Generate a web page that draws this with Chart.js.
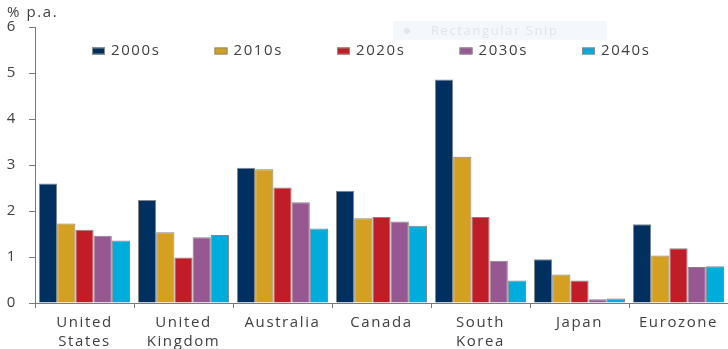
<!DOCTYPE html>
<html>
<head>
<meta charset="utf-8">
<script src="https://cdn.jsdelivr.net/npm/chart.js@4/dist/chart.umd.min.js"></script>
<style>
html,body{margin:0;padding:0;background:#fff;}
#wrap{width:728px;height:349px;position:relative;}
</style>
</head>
<body>
<div id="wrap"><canvas id="c" width="728" height="349"></canvas></div>
<script>
const categories = [["United","States"],["United","Kingdom"],"Australia","Canada",["South","Korea"],"Japan","Eurozone"];
const seriesLabels = ["2000s","2010s","2020s","2030s","2040s"];
const s2000s = [2.60, 2.24, 2.94, 2.44, 4.86, 0.95, 1.71];
const s2010s = [1.73, 1.54, 2.91, 1.84, 3.18, 0.62, 1.03];
const s2020s = [1.59, 0.99, 2.51, 1.87, 1.87, 0.49, 1.19];
const s2030s = [1.46, 1.43, 2.19, 1.77, 0.92, 0.08, 0.78];
const s2040s = [1.36, 1.48, 1.62, 1.68, 0.49, 0.10, 0.80];
const yTicks = [0,1,2,3,4,5,6];
const colors = ["#00305f","#d3a021","#c01d27","#975892","#00acdb"];

const FONT = "'Open Sans', 'Noto Sans', sans-serif";
const TXT = "#404040";
const SPACING = "1.6px";

const seriesData = [s2000s, s2010s, s2020s, s2030s, s2040s];
const datasets = seriesData.map((d,i)=>({
  label: seriesLabels[i],
  data: d,
  backgroundColor: colors[i],
  borderColor: "#858585",
  borderWidth: 1,
  borderSkipped: 'bottom',
  categoryPercentage: 0.92,
  barPercentage: 1.0
}));

const extras = {
  id: 'extras',
  beforeDraw(chart){
    chart.ctx.letterSpacing = SPACING;
  },
  afterDraw(chart){
    const ctx = chart.ctx;
    ctx.save();
    ctx.letterSpacing = SPACING;
    // unit label
    ctx.fillStyle = TXT;
    ctx.font = "15px " + FONT;
    ctx.textBaseline = 'middle';
    ctx.textAlign = 'left';
    ctx.fillText("% p.a.", 7, 13);
    // faint snip overlay
    ctx.fillStyle = "#f4f8fd";
    ctx.fillRect(393, 21, 214, 19);
    ctx.fillStyle = "#e2e8ee";
    ctx.beginPath(); ctx.arc(407, 31, 3, 0, Math.PI*2); ctx.fill();
    ctx.fillStyle = "#dfe5eb";
    ctx.font = "13px " + FONT;
    ctx.fillText("Rectangular Snip", 431, 31);
    // legend
    ctx.font = "15px " + FONT;
    chart.data.datasets.forEach((ds,i)=>{
      const x = 92 + i*122.5;
      const y = 47.5;
      ctx.fillStyle = ds.backgroundColor;
      ctx.fillRect(x, y, 13, 7);
      ctx.strokeStyle = "#8a8a8a";
      ctx.lineWidth = 1;
      ctx.strokeRect(x+0.5, y+0.5, 12, 6);
      ctx.fillStyle = TXT;
      ctx.fillText(ds.label, x+19, 51);
    });
    ctx.restore();
  }
};

new Chart(document.getElementById('c'), {
  type: 'bar',
  data: { labels: categories, datasets },
  plugins: [extras],
  options: {
    responsive: false,
    animation: false,
    layout: { padding: { top: 27, right: 0, left: 0, bottom: 0 } },
    plugins: { legend: { display: false }, tooltip: { enabled: false } },
    scales: {
      x: {
        grid: { offset: true, drawOnChartArea: false, tickLength: 5, color: "#7a7a7a" },
        border: { color: "#7a7a7a" },
        ticks: { color: TXT, font: { family: FONT, size: 15, lineHeight: 1.27 }, padding: 5, maxRotation: 0, autoSkip: false },
        afterFit(s){ s.height = 46; }
      },
      y: {
        min: 0, max: 6,
        afterBuildTicks(s){ s.ticks = yTicks.map(v=>({value:v})); },
        grid: { drawOnChartArea: false, tickLength: 6, color: "#7a7a7a" },
        border: { color: "#7a7a7a" },
        ticks: { color: TXT, font: { family: FONT, size: 15 }, padding: 12 },
        afterFit(s){ s.width = 35; }
      }
    }
  }
});
</script>
</body>
</html>
